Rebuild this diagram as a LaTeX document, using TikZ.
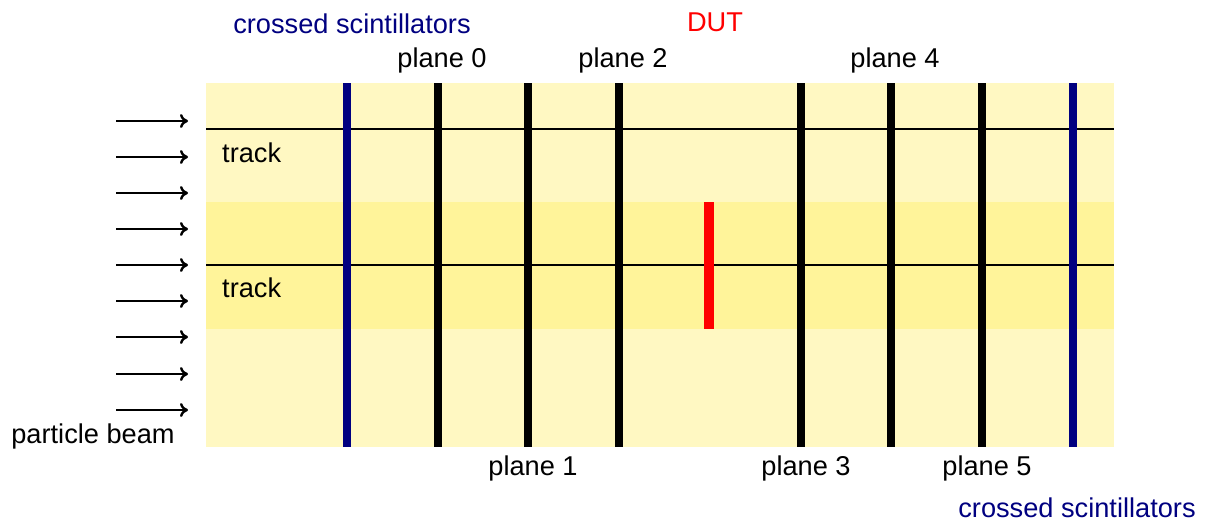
\documentclass[tikz,border=0pt]{standalone}
\usepackage{fontspec}
\setmainfont{Liberation Sans}
\usetikzlibrary{arrows.meta}
\definecolor{paleyellow}{HTML}{FFF8C2}
\definecolor{bandyellow}{HTML}{FFF49A}
\definecolor{scintblue}{HTML}{000080}
\definecolor{dutred}{HTML}{FF0000}
\begin{document}
\begin{tikzpicture}[x=1pt,y=-1pt,
  lbl/.style={font=\fontsize{27.2}{31}\selectfont, inner sep=0pt},
  scintlbl/.style={lbl, text=scintblue},
  planebar/.style={line width=8pt, black},
  scintbar/.style={line width=8pt, scintblue},
  trackline/.style={line width=2.8pt, black},
  beamarrow/.style={line width=2.4pt, -{To[length=8pt,width=14pt]}}]
\useasboundingbox (0,0) rectangle (1213,525);
% telescope volume and central band
\fill[paleyellow] (206,83) rectangle (1114,447);
\fill[bandyellow] (206,202) rectangle (1114,329);
% track lines
\coordinate (t1a) at (206,129); \coordinate (t1b) at (1114,129);
\coordinate (t2a) at (206,265); \coordinate (t2b) at (1114,265);
\draw[trackline] (t1a) -- (t1b);
\draw[trackline] (t2a) -- (t2b);
% scintillators
\foreach \n/\x in {sa/347, sb/1073} {
  \coordinate (\n top) at (\x,83); \coordinate (\n bot) at (\x,447);
  \draw[scintbar] (\n top) -- (\n bot);
}
% telescope planes
\foreach \n/\x in {p0/438, p1/528, p2/619, p3/801, p4/891, p5/982} {
  \coordinate (\n top) at (\x,83); \coordinate (\n bot) at (\x,447);
  \draw[planebar] (\n top) -- (\n bot);
}
% device under test
\coordinate (duttop) at (709,202); \coordinate (dutbot) at (709,329);
\draw[line width=10pt, dutred] (duttop) -- (dutbot);
% beam arrows
\foreach \i/\y in {1/121, 2/157, 3/193, 4/229, 5/265, 6/301, 7/337, 8/374, 9/410} {
  \coordinate (a\i s) at (116,\y); \coordinate (a\i e) at (188,\y);
  \draw[beamarrow] (a\i s) -- (a\i e);
}
% labels
\node[lbl, anchor=west] (track1) at (222,153) {track};
\node[lbl, anchor=west] (track2) at (222,288) {track};
\node[lbl] (beam) at (93,436) {particle beam};
\node[scintlbl] (scinttop) at (352,24) {crossed scintillators};
\node[scintlbl] (scintbot) at (1077,508) {crossed scintillators};
\node[lbl, text=dutred] (dut) at (715,22) {DUT};
\node[lbl] (l0) at (442,60) {plane 0};
\node[lbl] (l2) at (623,60) {plane 2};
\node[lbl] (l4) at (895,60) {plane 4};
\node[lbl] (l1) at (533,468) {plane 1};
\node[lbl] (l3) at (806,468) {plane 3};
\node[lbl] (l5) at (987,468) {plane 5};
\end{tikzpicture}
\end{document}
